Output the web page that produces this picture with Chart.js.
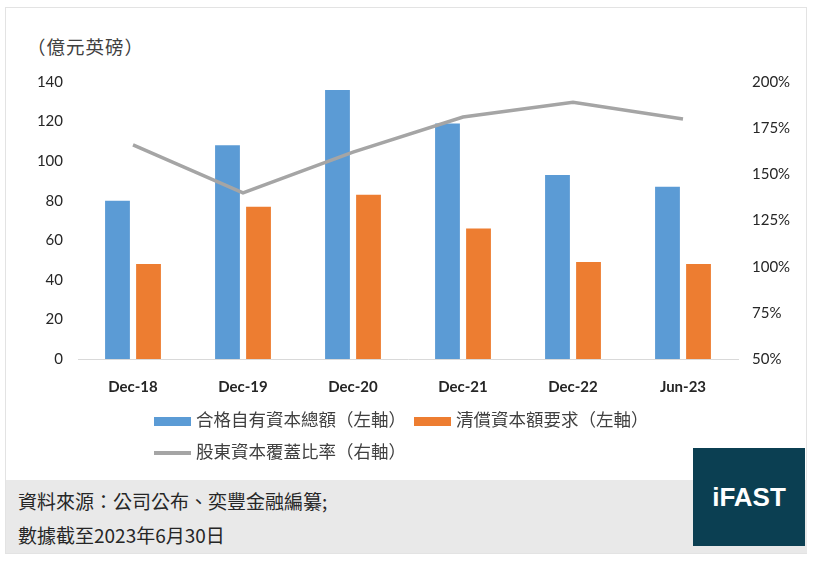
<!DOCTYPE html>
<html><head><meta charset="utf-8">
<script src="https://cdn.jsdelivr.net/npm/chart.js@4.4.1/dist/chart.umd.min.js"></script>
<style>
html,body{margin:0;padding:0;background:#fff;width:814px;height:565px;overflow:hidden;}
#frame{position:absolute;left:5px;top:7px;width:802px;height:547px;border:1px solid #e3e3e3;box-sizing:border-box;background:#fff;}
#unit{position:absolute;left:27px;top:33px;font:18.5px "Noto Sans CJK TC",sans-serif;color:#404040;letter-spacing:1px;}
#cwrap{position:absolute;left:0;top:58px;width:814px;height:352px;}
#legend{position:absolute;left:0;top:0;font:17.5px "Noto Sans CJK TC",sans-serif;color:#404040;}
.li{position:absolute;white-space:nowrap;line-height:20px;}
.sw{display:inline-block;vertical-align:middle;margin-right:5px;}
#footer{position:absolute;left:6px;top:480px;width:801px;height:73px;background:#e9e9e9;}
.ft{position:absolute;left:12px;font:19px "Noto Sans CJK TC",sans-serif;color:#262626;white-space:nowrap;}
#logo{position:absolute;left:693px;top:448px;width:112px;height:98px;background:#0b3f52;color:#fff;font:bold 26px "Liberation Sans",Arial,sans-serif;display:flex;align-items:center;justify-content:center;}
</style></head>
<body>
<div id="frame"></div>
<div id="unit">（億元英磅）</div>
<div id="cwrap"><canvas id="c" width="814" height="352"></canvas></div>
<div id="legend"></div>
<div id="footer">
  <div class="ft" style="top:7px">資料來源：公司公布、奕豐金融編纂;</div>
  <div class="ft" style="top:41px">數據截至2023年6月30日</div>
</div>
<div id="logo">iFAST</div>
<script>
const categories = ['Dec-18','Dec-19','Dec-20','Dec-21','Dec-22','Jun-23'];
const ownFunds = [80,108,136,119,93,87];
const scr = [48,77,83,66,49,48];
const coverage = [166,140,162,181,189,180];
const leftTicks = [0,20,40,60,80,100,120,140];
const rightTicks = [50,75,100,125,150,175,200];
const seriesNames = ['合格自有資本總額（左軸）','清償資本額要求（左軸）','股東資本覆蓋比率（右軸）'];
const colors = ['#5b9bd5','#ed7d31','#a5a5a5'];

const tickFont = {family:'Lato, "Liberation Sans", sans-serif', size:15};
const chart = new Chart(document.getElementById('c'), {
  data: {
    labels: categories,
    datasets: [
      {type:'line', label:seriesNames[2], data:coverage, yAxisID:'y2', borderColor:colors[2], backgroundColor:colors[2], borderWidth:3.5, pointRadius:0, tension:0, order:0},
      {type:'bar', label:seriesNames[0], data:ownFunds, yAxisID:'y', backgroundColor:colors[0], categoryPercentage:0.564, barPercentage:0.8, order:1},
      {type:'bar', label:seriesNames[1], data:scr, yAxisID:'y', backgroundColor:colors[1], categoryPercentage:0.564, barPercentage:0.8, order:1}
    ]
  },
  options: {
    responsive:false, animation:false, devicePixelRatio:1,
    layout:{padding:{top:10,bottom:0,left:0,right:0}},
    plugins:{legend:{display:false}, tooltip:{enabled:false}},
    scales:{
      x:{grid:{display:false}, border:{display:true,color:'#d9d9d9',width:1},
         ticks:{color:'#262626', font:{family:'Lato, "Liberation Sans", sans-serif', size:15, weight:'bold'}, padding:11},
         afterFit(s){s.height=51;}},
      y:{position:'left', min:0, max:140, grid:{display:false,drawTicks:false}, border:{display:false},
         afterBuildTicks(s){s.ticks = leftTicks.map(v=>({value:v}));},
         ticks:{color:'#262626', font:tickFont, padding:15},
         afterFit(s){s.width=78;}},
      y2:{position:'right', min:50, max:200, grid:{display:false,drawTicks:false}, border:{display:false},
         afterBuildTicks(s){s.ticks = rightTicks.map(v=>({value:v}));},
         ticks:{color:'#262626', font:tickFont, padding:14, callback:v=>v+'%'},
         afterFit(s){s.width=76;}}
    }
  }
});

// HTML legend
const lg = document.getElementById('legend');
const items = [
  {i:0, x:154, y:409, sw:'width:37px;height:9px;background:'+colors[0]},
  {i:1, x:414, y:409, sw:'width:37px;height:9px;background:'+colors[1]},
  {i:2, x:154, y:441, sw:'width:37px;height:4px;background:'+colors[2]}
];
items.forEach(it=>{
  const d=document.createElement('div'); d.className='li';
  d.style.left=it.x+'px'; d.style.top=it.y+'px';
  d.innerHTML='<span class="sw" style="'+it.sw+'"></span>'+seriesNames[it.i];
  lg.appendChild(d);
});
</script>
</body></html>
